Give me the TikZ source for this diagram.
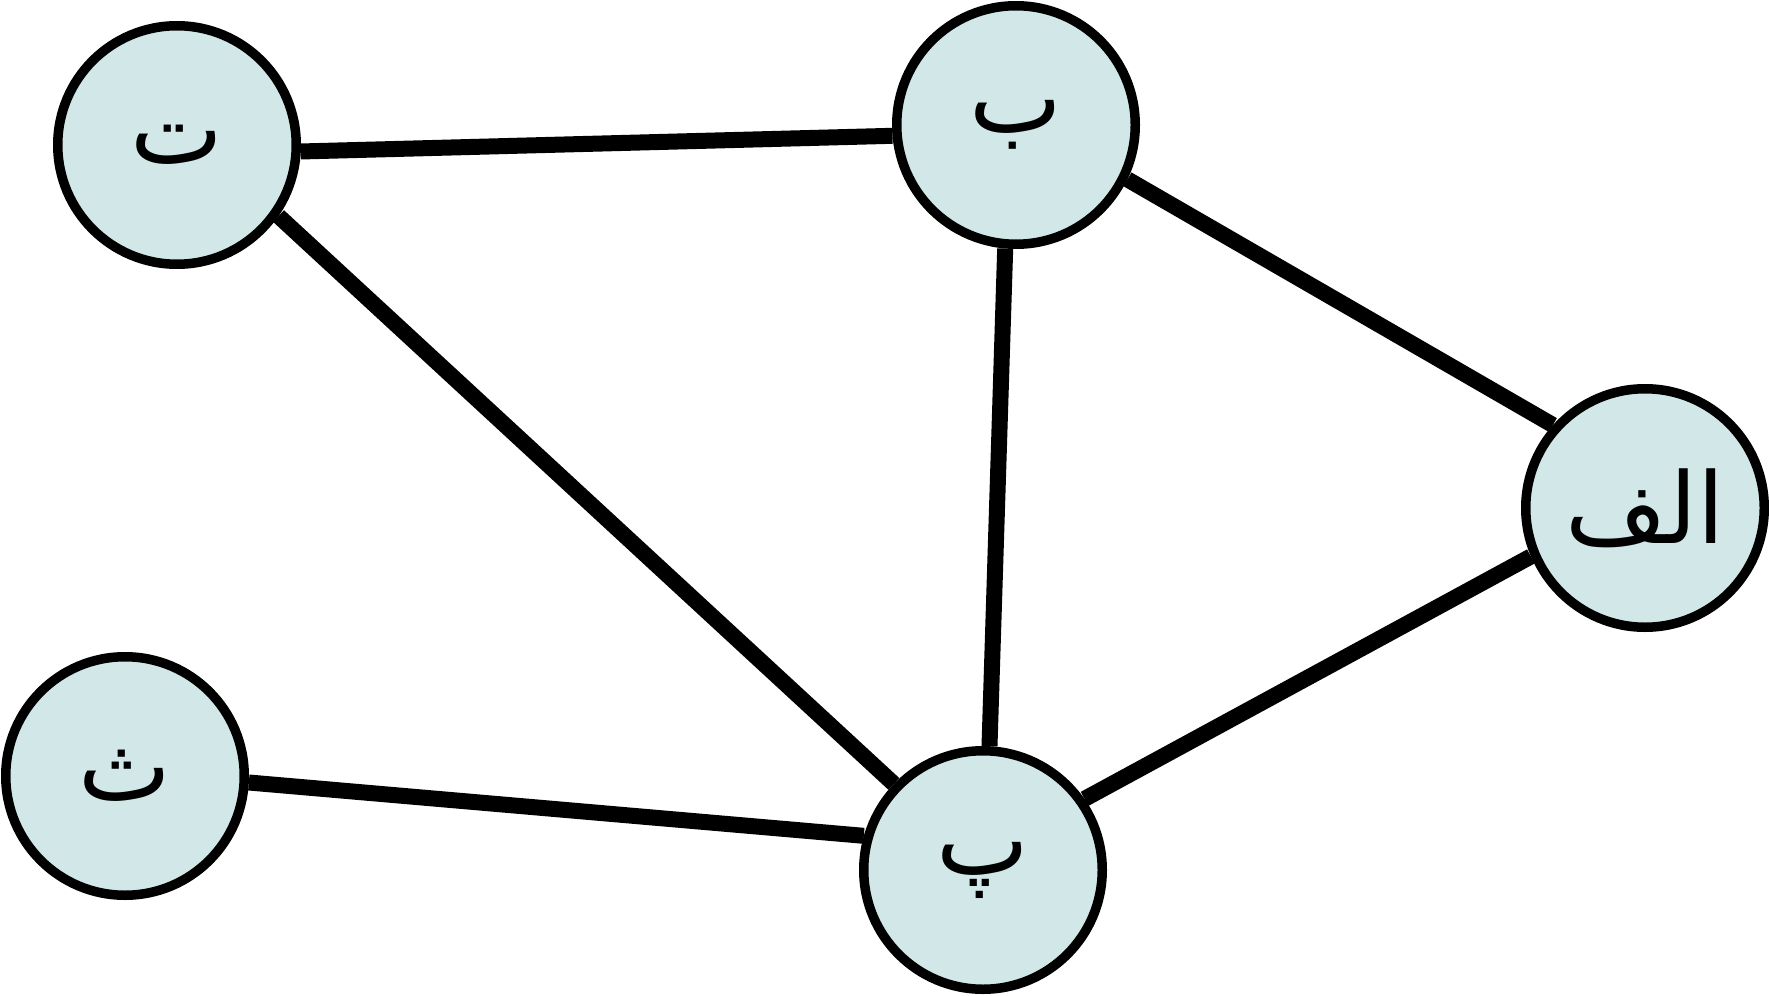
\documentclass[tikz,border=0pt]{standalone}
\usepackage{fontspec}
\newfontfamily\arabicfont[Script=Arabic]{DejaVu Sans}
\TeXXeTstate=1
\definecolor{nodefill}{RGB}{210,231,232}
\begin{document}
\begin{tikzpicture}[vertex/.style={circle,draw,line width=0.095cm,fill=nodefill,minimum size=2.385cm,inner sep=0pt,font=\arabicfont\fontsize{28}{30}\selectfont},
    edge/.style={line width=0.16cm}]
        \useasboundingbox (0,0) rectangle (17.69,9.95);
        \node[vertex] (alef) at (16.45,4.87) {\beginR الف\endR};
        \node[vertex] (be) at (10.16,8.70) {\beginR ب\endR};
        \node[vertex] (pe) at (9.83,1.25) {\beginR پ\endR};
        \node[vertex] (te) at (1.77,8.50) {\beginR ت\endR};
        \node[vertex] (se) at (1.25,2.19) {\beginR ث\endR};
        \foreach \a/\b in {te.357/be.185,te.325/pe.136,be.265/pe.87,be.334/alef.138,alef.203/pe.35,se.357/pe.164}
        \draw[edge] (\a) -- (\b);
    \end{tikzpicture}
\end{document}
